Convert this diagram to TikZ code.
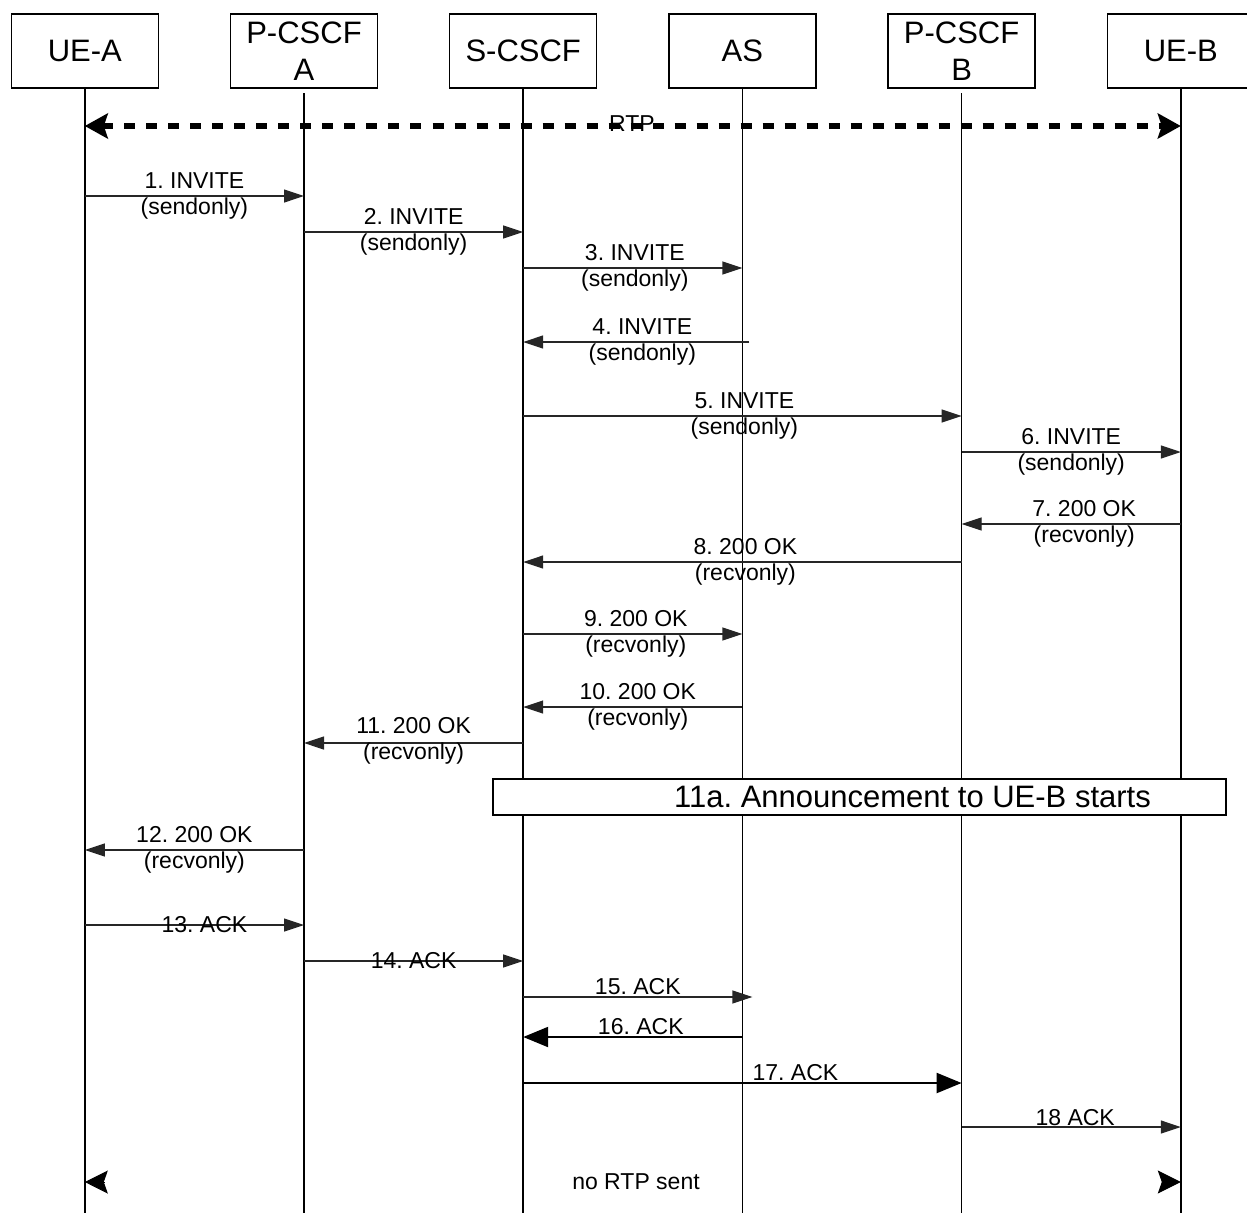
\documentclass[tikz,border=0pt]{standalone}
\usepackage{fontspec}
\setmainfont{Liberation Sans}
\usepackage{tikz}
\usetikzlibrary{arrows.meta,positioning,calc}
\frenchspacing
\tikzset{
  entity/.style={draw, line width=1.5pt, minimum width=147pt, minimum height=74pt,
                 inner sep=0pt, outer sep=0pt, align=center, font=\fontsize{31}{37}\selectfont},
  life/.style={line width=1.6pt},
  msg/.style={-{Triangle[length=20pt,width=13pt]}, line width=1.2pt, draw=black!85},
  boldmsg/.style={-{Triangle[length=25pt,width=20pt]}, line width=2.2pt},
  lbl/.style={font=\fontsize{23}{26}\selectfont, align=center},
  rtp/.style={line width=6pt, dash pattern=on 11pt off 11pt,
              {Stealth[length=23pt,width=25pt,inset=4pt]}-{Stealth[length=23pt,width=25pt,inset=4pt]}},
  rtptip/.style={line width=1pt, -{Stealth[length=23pt,width=23pt,inset=4pt]}},
  annbox/.style={draw, line width=1.5pt, fill=white, minimum width=733pt, minimum height=36pt,
                 inner sep=0pt, font=\fontsize{31}{37}\selectfont}
}
\begin{document}
\begin{tikzpicture}[x=1pt, y=-1pt, node distance=72.2pt]
  \useasboundingbox (0,0) rectangle (1247,1213);
  % entities and lifelines
  \node[entity] (uea) at (84.8,51) {UE-A};
  \node[entity, right=of uea] (pa) {P-CSCF\\A};
  \node[entity, right=of pa] (sc) {S-CSCF};
  \node[entity, right=of sc] (as) {AS};
  \node[entity, right=of as] (pb) {P-CSCF\\B};
  \node[entity, right=of pb] (ueb) {UE-B};
  \draw[life] (uea.south) -- (uea.south |- 0,1213);
  \draw[life] ([yshift=-5pt]pa.south) -- (pa.south |- 0,1213);
  \draw[life] (sc.south) -- (sc.south |- 0,1213);
  \draw[life] (as.south) -- (as.south |- 0,1213);
  \draw[life] ([yshift=-5pt]pb.south) -- (pb.south |- 0,1213);
  \draw[life] (ueb.south) -- (ueb.south |- 0,1213);
  % media before the call
  \node[lbl] (rtplbl) at (632,124) {RTP};
  \draw[rtp] (uea |- 0,126) -- (ueb |- 0,126);
  % INVITE chain
  \draw[msg] (uea |- 0,196) -- node[lbl]{1. INVITE\\(sendonly)} (pa |- 0,196);
  \draw[msg] (pa |- 0,232) -- node[lbl]{2. INVITE\\(sendonly)} (sc |- 0,232);
  \draw[msg] (sc |- 0,268) -- node[lbl, xshift=2pt]{3. INVITE\\(sendonly)} (as |- 0,268);
  \draw[msg] ($(as |- 0,342)+(7,0)$) -- node[lbl, xshift=6pt]{4. INVITE\\(sendonly)} (sc |- 0,342);
  \draw[msg] (sc |- 0,416) -- node[lbl, xshift=2pt]{5. INVITE\\(sendonly)} (pb |- 0,416);
  \draw[msg] (pb |- 0,452) -- node[lbl]{6. INVITE\\(sendonly)} (ueb |- 0,452);
  % 200 OK chain
  \draw[msg] (ueb |- 0,524) -- node[lbl, xshift=13pt]{7. 200 OK\\(recvonly)} (pb |- 0,524);
  \draw[msg] (pb |- 0,562) -- node[lbl, xshift=3pt]{8. 200 OK\\(recvonly)} (sc |- 0,562);
  \draw[msg] (sc |- 0,634) -- node[lbl, xshift=3pt]{9. 200 OK\\(recvonly)} (as |- 0,634);
  \draw[msg] (as |- 0,707) -- node[lbl, xshift=5pt]{10. 200 OK\\(recvonly)} (sc |- 0,707);
  \draw[msg] (sc |- 0,743) -- node[lbl, yshift=2pt]{11. 200 OK\\(recvonly)} (pa |- 0,743);
  \node[annbox] (ann) at (859.5,797) {\hspace*{106pt}11a. Announcement to UE-B starts};
  \draw[msg] (pa |- 0,850) -- node[lbl]{12. 200 OK\\(recvonly)} (uea |- 0,850);
  % ACK chain
  \draw[msg] (uea |- 0,925) -- node[lbl, xshift=10pt]{13. ACK} (pa |- 0,925);
  \draw[msg] (pa |- 0,961) -- node[lbl]{14. ACK} (sc |- 0,961);
  \draw[msg] (sc |- 0,997) -- node[lbl, above, inner sep=2pt]{15. ACK} ($(as |- 0,997)+(10,0)$);
  \draw[boldmsg] (as |- 0,1037) -- node[lbl, above, inner sep=1pt, xshift=8pt]{16. ACK} (sc |- 0,1037);
  \draw[boldmsg] (sc |- 0,1083) -- node[lbl, above, inner sep=1pt, xshift=53pt]{17. ACK} (pb |- 0,1083);
  \draw[msg] (pb |- 0,1127) -- node[lbl, above, inner sep=1pt, xshift=4pt]{18 ACK} (ueb |- 0,1127);
  % no media after the call
  \draw[rtptip] ($(uea |- 0,1182)+(19,0)$) -- (uea |- 0,1182);
  \draw[rtptip] ($(ueb |- 0,1182)+(-19,0)$) -- (ueb |- 0,1182);
  \node[lbl] (nortp) at (636,1182) {no RTP sent};
\end{tikzpicture}
\end{document}
